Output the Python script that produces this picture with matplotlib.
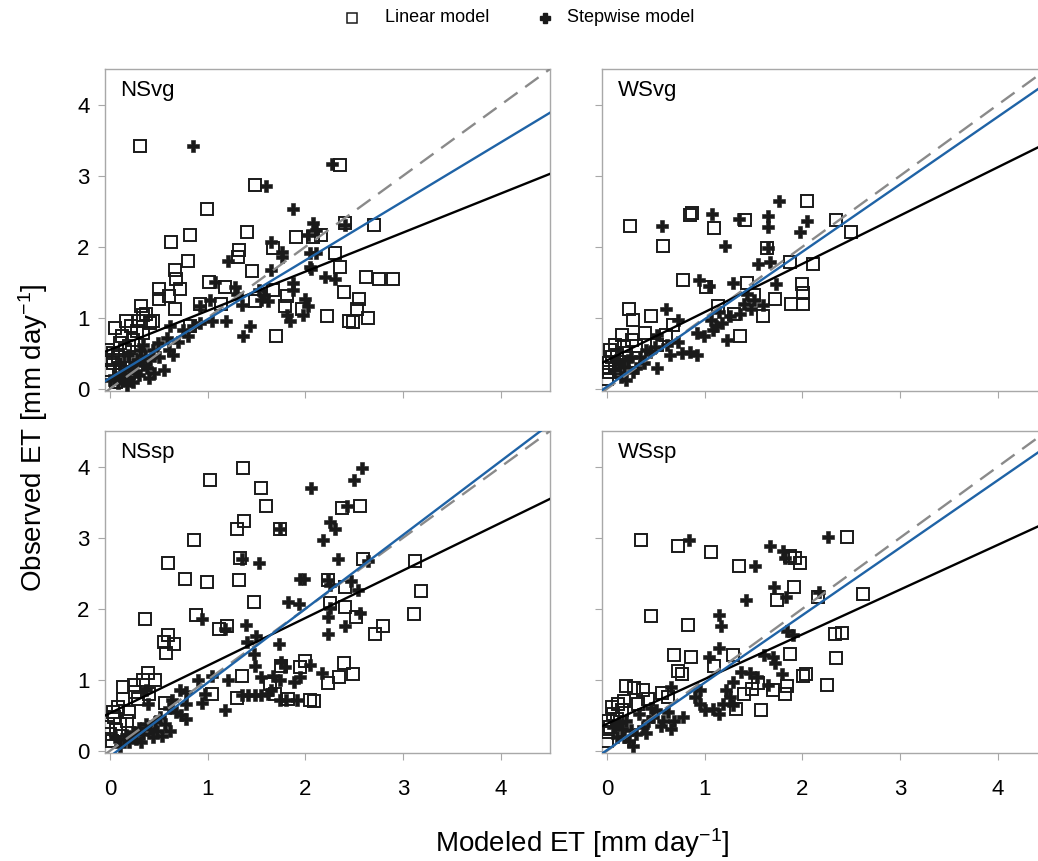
import numpy as np
import matplotlib.pyplot as plt
from matplotlib.lines import Line2D

plt.rcParams['font.family'] = ['Liberation Sans', 'DejaVu Sans']
plt.rcParams['mathtext.default'] = 'regular'

panels = ['NSvg', 'WSvg', 'NSsp', 'WSsp']

# (modeled, observed) pairs
nsvg_lin = [(0.31, 3.41), (1.48, 2.87), (0.99, 2.53), (0.82, 2.17), (0.62, 2.07), (1.40, 2.20), (1.90, 2.13),
            (1.32, 1.95), (1.31, 1.86), (0.80, 1.80), (0.67, 1.67), (0.68, 1.55), (0.72, 1.41), (0.50, 1.41),
            (0.60, 1.30), (0.50, 1.26), (0.67, 1.13), (0.32, 1.17), (1.01, 1.51), (1.18, 1.44), (1.45, 1.66),
            (1.67, 1.98), (0.92, 1.20), (1.14, 1.20), (1.48, 1.23), (1.67, 1.39), (1.81, 1.30), (1.79, 1.16),
            (1.96, 1.13), (2.22, 1.03), (1.70, 0.74), (2.35, 3.15), (2.30, 1.91), (2.35, 1.71), (2.39, 1.36),
            (2.44, 0.95), (2.40, 2.34), (2.16, 2.16), (2.08, 2.14), (0.34, 1.04), (0.22, 0.88), (0.34, 0.78),
            (0.44, 0.95), (0.10, 0.64), (0.03, 0.50), (0.15, 0.55), (-0.02, 0.55), (0.24, 0.69), (0.03, 0.36),
            (0.00, 0.27), (0.14, 0.41), (0.27, 0.45), (0.09, 0.20), (0.37, 1.06), (0.41, 0.92), (0.82, 0.88),
            (2.70, 2.30), (2.62, 1.57), (2.75, 1.55), (2.89, 1.54), (2.55, 1.27), (2.53, 1.13), (2.64, 1.00),
            (2.49, 0.94), (0.06, 0.10), (0.18, 0.30), (0.08, 0.45), (0.20, 0.60), (0.12, 0.75), (0.28, 0.82),
            (0.05, 0.85), (0.00, 0.40), (0.10, 0.30), (0.22, 0.40), (0.30, 0.95), (0.16, 0.95)]
nsvg_step = [(0.85, 3.41), (1.60, 2.86), (1.87, 2.53), (2.27, 3.16), (1.65, 2.07), (1.76, 1.93), (1.76, 1.86),
             (1.21, 1.80), (1.65, 1.67), (1.07, 1.51), (1.28, 1.44), (1.30, 1.34), (1.52, 1.39), (1.58, 1.32),
             (1.55, 1.25), (1.62, 1.23), (1.87, 1.49), (1.87, 1.39), (1.99, 1.26), (2.03, 1.16), (1.97, 1.04),
             (1.81, 1.04), (1.84, 0.95), (1.35, 1.18), (1.19, 0.95), (1.43, 0.88), (1.36, 0.74), (1.04, 0.95),
             (0.92, 1.17), (2.05, 1.71), (2.05, 1.91), (2.11, 1.91), (2.08, 2.33), (2.11, 2.23), (2.03, 2.16),
             (2.20, 1.58), (2.30, 1.54), (2.40, 2.31), (2.06, 1.69), (0.61, 0.88), (0.75, 0.83), (0.85, 0.88),
             (0.92, 0.92), (0.80, 0.74), (0.70, 0.66), (0.58, 0.71), (0.49, 0.64), (0.44, 0.55), (0.65, 0.48),
             (0.41, 0.41), (0.55, 0.27), (0.34, 0.34), (0.27, 0.24), (0.20, 0.17), (0.24, 0.10), (0.14, 0.27),
             (0.10, 0.36), (0.19, 0.48), (0.31, 0.55), (0.05, 0.17), (0.00, 0.13), (0.34, 0.62), (1.02, 1.25),
             (0.15, 0.12), (0.30, 0.20), (0.38, 0.30), (0.50, 0.45), (0.45, 0.22), (0.12, 0.20), (0.22, 0.30),
             (0.28, 0.40), (0.36, 0.46), (0.08, 0.08), (0.18, 0.05), (0.60, 0.55), (0.25, 0.35), (0.40, 0.15)]

wsvg_lin = [(0.24, 2.29), (0.57, 2.01), (0.85, 2.44), (0.87, 2.47), (1.10, 2.27), (1.41, 2.38), (2.05, 2.64),
            (2.34, 2.37), (1.64, 1.98), (1.87, 1.79), (2.11, 1.75), (0.78, 1.53), (1.01, 1.44), (1.43, 1.49),
            (1.72, 1.27), (1.88, 1.19), (1.99, 1.47), (2.01, 1.35), (2.01, 1.19), (1.14, 1.16), (1.60, 1.02),
            (1.30, 1.06), (1.36, 0.74), (0.23, 1.13), (0.27, 0.97), (0.45, 1.02), (0.68, 0.90), (0.39, 0.79),
            (0.15, 0.76), (0.26, 0.69), (0.60, 0.76), (0.03, 0.55), (0.17, 0.60), (0.10, 0.48), (0.02, 0.36),
            (0.02, 0.24), (0.00, 0.14), (0.51, 0.62), (2.50, 2.21), (1.50, 1.32), (0.08, 0.30), (0.05, 0.45),
            (0.12, 0.38), (0.20, 0.50), (0.00, 0.30), (0.30, 0.60), (0.08, 0.62)]
wsvg_step = [(1.76, 2.65), (0.56, 2.29), (1.07, 2.46), (1.35, 2.39), (1.65, 2.43), (1.65, 2.28), (2.05, 2.36),
             (1.97, 2.21), (1.21, 2.01), (1.65, 1.98), (1.55, 1.76), (1.67, 1.79), (0.94, 1.53), (1.04, 1.45),
             (1.29, 1.49), (1.73, 1.48), (0.60, 1.13), (0.73, 0.97), (1.43, 1.34), (1.50, 1.25), (1.60, 1.18),
             (1.47, 1.13), (1.36, 1.06), (1.26, 1.02), (1.18, 0.92), (1.06, 0.97), (1.09, 0.83), (0.99, 0.74),
             (1.23, 0.69), (0.92, 0.78), (0.85, 0.52), (0.77, 0.51), (0.92, 0.48), (0.51, 0.76), (0.61, 0.62),
             (0.44, 0.52), (0.34, 0.45), (0.51, 0.29), (0.27, 0.24), (0.17, 0.31), (0.14, 0.17), (0.20, 0.13),
             (0.07, 0.27), (0.38, 0.36), (0.65, 0.48), (0.73, 0.66), (0.49, 0.59), (0.09, 0.41), (0.12, 0.35),
             (0.22, 0.40), (0.30, 0.30), (0.40, 0.55), (0.25, 0.45), (1.12, 0.88), (1.15, 1.08), (1.40, 1.20)]

nssp_lin = [(1.36, 3.98), (1.02, 3.81), (1.54, 3.70), (1.60, 3.45), (1.37, 3.23), (1.30, 3.12), (1.74, 3.12),
            (0.86, 2.97), (1.33, 2.71), (0.59, 2.64), (0.77, 2.42), (0.99, 2.38), (1.32, 2.41), (2.23, 2.40),
            (1.47, 2.09), (0.36, 1.85), (0.88, 1.91), (1.12, 1.71), (1.20, 1.76), (0.59, 1.63), (0.55, 1.53),
            (0.66, 1.50), (0.57, 1.37), (0.39, 1.09), (0.46, 0.99), (0.34, 0.99), (0.13, 0.90), (0.26, 0.83),
            (0.13, 0.73), (0.29, 0.73), (0.03, 0.54), (0.04, 0.47), (0.00, 0.24), (0.02, 0.14), (0.10, 0.38),
            (-0.02, 0.33), (0.56, 0.68), (1.04, 0.80), (1.35, 1.06), (1.30, 0.75), (1.75, 1.20), (1.94, 1.18),
            (2.00, 1.27), (1.64, 0.94), (1.69, 0.80), (1.82, 0.73), (2.05, 0.72), (2.09, 0.70), (2.23, 0.96),
            (2.34, 1.04), (2.39, 1.23), (2.40, 2.30), (2.40, 2.03), (2.25, 2.08), (2.37, 3.41), (2.56, 3.45),
            (2.59, 2.70), (3.12, 2.67), (3.18, 2.25), (3.11, 1.93), (2.52, 1.88), (2.71, 1.65), (2.79, 1.76),
            (2.49, 1.08), (0.08, 0.62), (0.20, 0.55), (0.18, 0.42), (0.06, 0.30), (0.25, 0.92), (0.40, 0.80)]
nssp_step = [(2.06, 3.70), (2.25, 3.22), (2.30, 3.12), (2.18, 2.97), (2.33, 2.70), (1.74, 3.12), (1.35, 2.70),
             (1.52, 2.64), (1.94, 2.42), (2.23, 2.40), (1.82, 2.09), (1.93, 2.06), (0.94, 1.85), (1.18, 1.72),
             (1.39, 1.77), (1.49, 1.61), (1.40, 1.53), (2.23, 1.89), (2.40, 1.76), (2.23, 1.65), (1.73, 1.50),
             (1.47, 1.36), (1.48, 1.20), (1.75, 1.25), (1.79, 1.18), (2.05, 1.21), (2.17, 1.09), (1.67, 1.06),
             (1.74, 0.99), (1.65, 0.85), (1.88, 0.97), (1.94, 1.04), (1.55, 1.04), (1.35, 0.78), (1.41, 0.78),
             (1.48, 0.78), (1.55, 0.78), (1.62, 0.80), (1.74, 0.72), (1.80, 0.72), (1.91, 0.72), (1.21, 0.99),
             (1.04, 1.06), (0.90, 0.99), (0.97, 0.80), (0.94, 0.68), (1.18, 0.57), (0.72, 0.85), (0.78, 0.83),
             (0.78, 0.66), (0.73, 0.50), (0.78, 0.45), (0.68, 0.54), (0.63, 0.71), (0.60, 0.61), (0.51, 0.47),
             (0.56, 0.38), (0.61, 0.28), (0.53, 0.21), (0.41, 0.31), (0.34, 0.24), (0.27, 0.17), (0.20, 0.12),
             (0.14, 0.17), (0.10, 0.07), (0.32, 0.12), (0.44, 0.19), (0.37, 0.38), (0.37, 0.85), (0.39, 0.66),
             (0.05, 0.19), (2.58, 3.98), (2.50, 3.81), (2.42, 3.45), (2.64, 2.67), (1.98, 2.42), (2.47, 2.39),
             (2.54, 2.26), (2.25, 2.34), (2.25, 2.01), (2.56, 1.94), (0.24, 0.26), (0.30, 0.32), (0.46, 0.40),
             (0.16, 0.22), (0.48, 0.28)]

wssp_lin = [(0.35, 2.97), (0.73, 2.88), (1.06, 2.80), (1.35, 2.60), (1.97, 2.64), (1.92, 2.71), (1.87, 2.74),
            (1.91, 2.30), (1.74, 2.12), (2.16, 2.16), (0.45, 1.90), (0.83, 1.77), (2.33, 1.65), (2.40, 1.66),
            (0.69, 1.35), (0.86, 1.32), (1.29, 1.35), (1.87, 1.36), (2.34, 1.31), (0.73, 1.12), (0.77, 1.08),
            (2.01, 1.06), (2.04, 1.08), (2.25, 0.92), (1.84, 0.91), (1.70, 0.85), (1.82, 0.80), (1.48, 0.87),
            (1.58, 0.58), (1.32, 0.59), (0.20, 0.91), (0.28, 0.88), (0.37, 0.85), (0.56, 0.82), (0.62, 0.76),
            (0.42, 0.73), (0.11, 0.66), (0.06, 0.52), (0.01, 0.42), (0.01, 0.26), (0.00, 0.14), (0.03, 0.33),
            (0.32, 0.66), (0.15, 0.57), (2.46, 3.01), (2.62, 2.21), (0.10, 0.45), (0.18, 0.70), (0.05, 0.62),
            (1.40, 0.80), (1.55, 0.95), (1.10, 1.20)]
wssp_step = [(0.84, 2.97), (1.51, 2.60), (1.67, 2.88), (1.80, 2.81), (1.82, 2.72), (2.26, 3.01), (1.71, 2.30),
             (1.83, 2.16), (1.42, 2.12), (1.15, 1.91), (1.17, 1.76), (2.17, 2.23), (1.84, 1.68), (1.90, 1.63),
             (1.15, 1.45), (1.04, 1.32), (1.61, 1.35), (1.70, 1.32), (1.72, 1.23), (1.79, 1.08), (1.65, 0.92),
             (1.46, 1.09), (1.53, 1.04), (1.37, 1.11), (1.29, 0.97), (1.22, 0.85), (1.26, 0.76), (1.19, 0.66),
             (1.29, 0.64), (1.15, 0.52), (1.09, 0.59), (1.00, 0.57), (0.95, 0.66), (0.90, 0.76), (0.95, 0.85),
             (0.66, 0.90), (0.78, 0.47), (0.69, 0.42), (0.66, 0.31), (0.57, 0.42), (0.47, 0.47), (0.50, 0.57),
             (0.42, 0.42), (0.37, 0.33), (0.30, 0.24), (0.23, 0.14), (0.27, 0.07), (0.18, 0.19), (0.15, 0.31),
             (0.33, 0.52), (0.20, 0.42), (0.06, 0.33), (0.10, 0.19), (0.25, 0.30), (0.40, 0.25), (0.55, 0.35),
             (0.12, 0.40), (0.45, 0.60), (0.62, 0.55)]

# regression lines: intercept, slope
lin_fit = [(0.55, 0.55), (0.40, 0.68), (0.53, 0.67), (0.38, 0.63)]
step_fit = [(0.15, 0.83), (0.03, 0.95), (-0.08, 1.04), (0.01, 0.95)]

lin_data = [nsvg_lin, wsvg_lin, nssp_lin, wssp_lin]
step_data = [nsvg_step, wsvg_step, nssp_step, wssp_step]

fig = plt.figure(figsize=(10.38, 8.61), dpi=100)
W, H = 1038, 861
boxes = [(105, 69), (602, 69), (105, 431), (602, 431)]
aw, ah = 445, 322

frame_col = '#a8a8a8'
ink = '#1a1a1a'
xx = np.array([-0.05, 4.5])

for i, name in enumerate(panels):
    left, top = boxes[i]
    ax = fig.add_axes([left / W, 1 - (top + ah) / H, aw / W, ah / H])
    lx, ly = np.array(lin_data[i]).T
    sx, sy = np.array(step_data[i]).T
    ax.plot(lx, ly, 's', ms=8.5, mfc='none', mec=ink, mew=1.4, zorder=3)
    ax.plot(sx, sy, 'P', ms=8, color=ink, mec=ink, mew=0.4, zorder=3)
    ax.plot(xx, xx, '--', color='#8a8a8a', lw=1.7, dashes=(7, 4), zorder=4)
    a, b = lin_fit[i]
    ax.plot(xx, a + b * xx, '-', color='black', lw=1.7, zorder=4)
    a, b = step_fit[i]
    ax.plot(xx, a + b * xx, '-', color='#1f63a6', lw=1.7, zorder=5)
    ax.set_xlim(-0.05, 4.5)
    ax.set_ylim(-0.03, 4.5)
    ax.set_xticks([0, 1, 2, 3, 4])
    ax.set_yticks([0, 1, 2, 3, 4])
    for s in ax.spines.values():
        s.set_color(frame_col)
        s.set_linewidth(1.0)
    ax.tick_params(direction='out', length=5, color=frame_col, labelsize=16)
    ax.tick_params(axis='x', pad=14)
    ax.tick_params(axis='y', pad=6)
    if i < 2:
        ax.tick_params(labelbottom=False)
    if i % 2 == 1:
        ax.tick_params(labelleft=False)
    ax.text(0.035, 0.965, name, transform=ax.transAxes, ha='left', va='top', fontsize=16)

fig.text(33 / W, 1 - 438 / H, 'Observed ET [mm day$^{-1}$]', rotation=90, ha='center', va='center', fontsize=20)
fig.text(582 / W, 1 - 843 / H, 'Modeled ET [mm day$^{-1}$]', ha='center', va='center', fontsize=20)

# legend drawn as free markers and text across the top
fig.add_artist(Line2D([352 / W], [1 - 18 / H], transform=fig.transFigure, ls='none', marker='s', ms=6.5,
                      mfc='none', mec=ink, mew=1.1))
fig.text(385 / W, 1 - 18 / H, 'Linear model', ha='left', va='center', fontsize=13)
fig.add_artist(Line2D([545 / W], [1 - 18 / H], transform=fig.transFigure, ls='none', marker='P', ms=6.5,
                      color=ink))
fig.text(567 / W, 1 - 18 / H, 'Stepwise model', ha='left', va='center', fontsize=13)

fig.savefig('out.png', dpi=100)
